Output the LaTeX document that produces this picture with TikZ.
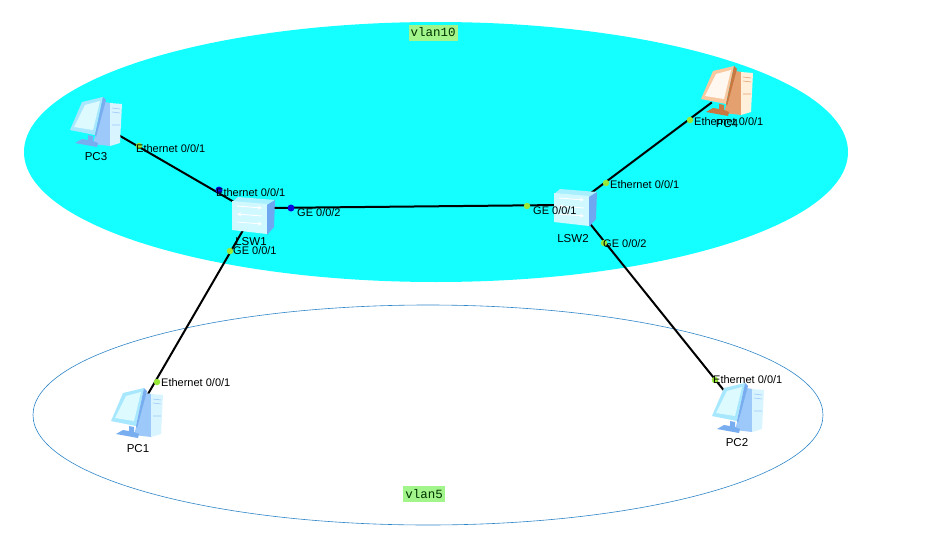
\documentclass[tikz,border=0pt]{standalone}
\usepackage{fontspec}
\setmainfont{Liberation Sans}
\setmonofont{Liberation Mono}
\definecolor{zonecyan}{HTML}{14FFFF}
\definecolor{zoneline}{HTML}{2F86C8}
\definecolor{tagfill}{HTML}{A2F58A}
\definecolor{portgreen}{HTML}{98E838}
\definecolor{portblue}{HTML}{0A0AE0}
\definecolor{swlight}{HTML}{CFF8FF}
\definecolor{swtop}{HTML}{A8F0FF}
\definecolor{swside}{HTML}{6FA8F0}
\definecolor{bfront}{HTML}{D8F4FF}
\definecolor{bside}{HTML}{9CC8FA}
\definecolor{bframe}{HTML}{A8E8FF}
\definecolor{bscreen}{HTML}{DDFBFF}
\definecolor{bdark}{HTML}{78AEF0}
\definecolor{ofront}{HTML}{FFF0DC}
\definecolor{oside}{HTML}{E5A070}
\definecolor{oframe}{HTML}{F8C8A0}
\definecolor{oscreen}{HTML}{FFF8F0}
\definecolor{odark}{HTML}{C87840}
\tikzset{
  zone/.style={draw=zoneline,line width=0.6pt},
  devnode/.style={inner sep=0pt,minimum width=#1,minimum height=#1},
  link/.style={draw=black,line width=2pt},
  portdot/.style={circle,inner sep=0pt,minimum size=#1},
  portlbl/.style={font=\fontsize{11}{13}\selectfont,inner sep=0pt,anchor=west},
  devlbl/.style={font=\fontsize{11.5}{13}\selectfont,inner sep=0pt},
  tag/.style={fill=tagfill,font=\ttfamily\fontsize{12.5}{14}\selectfont,text=black!80!green,inner xsep=2pt,inner ysep=3pt,text height=9pt,text depth=1pt},
  pics/pcicon/.style n args={5}{code={
    % tower side and front
    \fill[#2] (8,-20) -- (15,-19) -- (14,24) -- (-3,22) -- cycle;
    \fill[#1] (14,-19) -- (26,-18) -- (24,21) -- (14,24) -- cycle;
    \draw[#2,line width=0.6pt] (16,-14) -- (24,-13) (16,-10) -- (24,-9) (16,3) -- (24,3);
    % stand
    \fill[#3] (-8,13) -- (-3,14) -- (-3,19) -- (2,21) -- (1,25) -- (-21,21) -- (-14,17) -- (-8,18) -- cycle;
    % monitor
    \fill[#4] (-14,-20) -- (7,-25) -- (-1,13) -- (-26,8) -- cycle;
    \fill[#5] (-11,-17) -- (4,-21) -- (-3,8) -- (-22,5) -- cycle;
    \fill[#3] (7,-25) -- (10,-22) -- (0,15) -- (-1,13) -- cycle;
  }},
  pics/swicon/.style={code={
    \fill[swtop] (-21,-11) -- (-15,-16) -- (22,-13) -- (14,-8) -- cycle;
    \fill[swlight] (-21,-12) -- (14,-9) -- (14,21) -- (-21,17) -- cycle;
    \fill[swside] (14,-8) -- (22,-13) -- (21,14) -- (14,22) -- cycle;
    \draw[white,line width=0.9pt,->,>=stealth] (-16,-7) -- (9,-5);
    \draw[white,line width=0.9pt,<-,>=stealth] (-16,1) -- (9,3);
    \draw[white,line width=0.9pt,->,>=stealth] (-16,9) -- (9,11);
  }}
}
\begin{document}
\begin{tikzpicture}[x=1pt,y=-1pt]
\useasboundingbox[fill=white] (0,0) rectangle (926,535);
% zones
\path[fill=zonecyan] (436,152) ellipse [x radius=412,y radius=130];
\path[zone,fill=white] (428,415) ellipse [x radius=395,y radius=110];
% device anchors
\node[devnode=30pt] (pc3) at (96,122) {};
\node[devnode=30pt] (pc4) at (727,91) {};
\node[devnode=30pt] (pc1) at (137,413) {};
\node[devnode=30pt] (pc2) at (738,408) {};
\node[devnode=26pt] (sw1) at (253,213) {};
\node[devnode=26pt] (sw2) at (575,205) {};
% links
\draw[link] (pc3) -- (sw1);
\draw[link] ([yshift=5pt]sw1.east) -- (sw2.west);
\draw[link] (sw1) -- (pc1);
\draw[link] (sw2) -- (pc4);
\draw[link] (sw2) -- (pc2);
% icons
\pic at (pc3) {pcicon={bfront}{bside}{bdark}{bframe}{bscreen}};
\pic at (pc1) {pcicon={bfront}{bside}{bdark}{bframe}{bscreen}};
\pic at (pc2) {pcicon={bfront}{bside}{bdark}{bframe}{bscreen}};
\pic at (pc4) {pcicon={ofront}{oside}{odark}{oframe}{oscreen}};
\pic at (sw1) {swicon};
\pic at (sw2) {swicon};
% port dots
\node[portdot=6.5pt,fill=portgreen] (d1) at (139,146) {};
\node[portdot=7pt,fill=portblue] (d2) at (219,190) {};
\node[portdot=7pt,fill=portblue] (d3) at (291,208) {};
\node[portdot=6.5pt,fill=portgreen] (d4) at (230,251) {};
\node[portdot=6.5pt,fill=portgreen] (d5) at (157,382) {};
\node[portdot=6.5pt,fill=portgreen] (d6) at (527,206) {};
\node[portdot=6.5pt,fill=portgreen] (d7) at (606,183) {};
\node[portdot=6.5pt,fill=portgreen] (d8) at (690,120) {};
\node[portdot=6.5pt,fill=portgreen] (d9) at (604,243) {};
\node[portdot=6.5pt,fill=portgreen] (d10) at (715,380) {};
% device labels
\node[devlbl] (l3) at (96,157) {PC3};
\node[devlbl] (l1) at (138,449) {PC1};
\node[devlbl] (l2) at (737,443) {PC2};
\node[devlbl] (l4) at (727,124) {PC4};
\node[devlbl] (ls1) at (251,242) {LSW1};
\node[devlbl] (ls2) at (573,239) {LSW2};
% port labels
\node[portlbl] (p1) at (136,149) {Ethernet 0/0/1};
\node[portlbl] (p2) at (216,193) {Ethernet 0/0/1};
\node[portlbl] (p3) at (297,213) {GE 0/0/2};
\node[portlbl] (p4) at (233,251) {GE 0/0/1};
\node[portlbl] (p5) at (161,383) {Ethernet 0/0/1};
\node[portlbl] (p6) at (533,211) {GE 0/0/1};
\node[portlbl] (p7) at (610,185) {Ethernet 0/0/1};
\node[portlbl] (p8) at (694,122) {Ethernet 0/0/1};
\node[portlbl] (p9) at (603,244) {GE 0/0/2};
\node[portlbl] (p10) at (713,380) {Ethernet 0/0/1};
% zone tags
\node[tag] (v10) at (433,33) {vlan10};
\node[tag] (v5) at (424,494) {vlan5};
\end{tikzpicture}
\end{document}
